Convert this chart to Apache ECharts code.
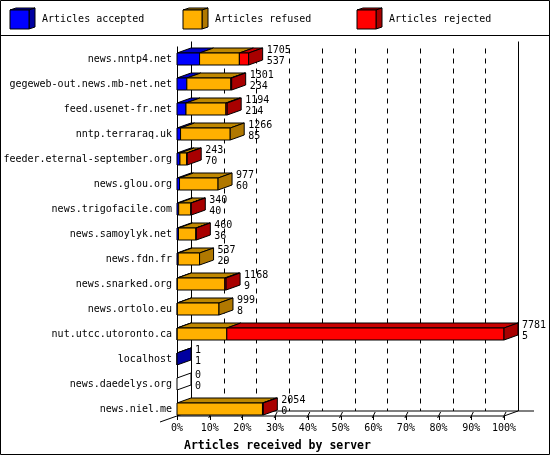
<!DOCTYPE html>
<html>
<head>
<meta charset="utf-8">
<script src="https://cdn.jsdelivr.net/npm/echarts@6/dist/echarts.min.js"></script>
<style>
html,body{margin:0;padding:0;background:#fff;}
#chart{width:550px;height:455px;}
</style>
</head>
<body>
<div id="chart"></div>
<script>
const servers = ['news.nntp4.net','gegeweb-out.news.mb-net.net','feed.usenet-fr.net','nntp.terraraq.uk','feeder.eternal-september.org','news.glou.org','news.trigofacile.com','news.samoylyk.net','news.fdn.fr','news.snarked.org','news.ortolo.eu','nut.utcc.utoronto.ca','localhost','news.daedelys.org','news.niel.me'];
const offered  = [1705,1301,1194,1266,243,977,340,460,537,1168,999,7781,1,0,2054];
const accepted = [537,234,214,85,70,60,40,36,29,9,8,5,1,0,0];
const refused  = [947,1047,950,1181,163,917,290,414,508,1129,991,1180,0,0,2034];
const rejected = [221,20,30,0,10,0,10,10,0,30,0,6596,0,0,20];
const pctTicks = [0,10,20,30,40,50,60,70,80,90,100];
const seriesNames = ['Articles accepted','Articles refused','Articles rejected'];

const FRONT = ['#0000ff','#ffb000','#ff0000'];
const TOP   = ['#0000c8','#c08800','#c80000'];
const SIDE  = ['#0000a0','#b07800','#a80000'];
const DX = 14, DY = -5;
const MONO = '"DejaVu Sans Mono", monospace';

const maxTotal = Math.max.apply(null, offered);
const pct = v => v * 100 / maxTotal;

function renderFrame(params, api) {
  const cs = params.coordSys;
  const x0 = cs.x, top = cs.y, floorF = cs.y + cs.height - 5.5;
  const floorB = floorF + DY;
  const x100 = api.coord([100, 0])[0];
  const L = (x1, y1, x2, y2, dash) => ({
    type: 'line', shape: {x1, y1, x2, y2},
    style: {stroke: '#000', lineWidth: 1, lineDash: dash || null}
  });
  const ch = [];
  ch.push(L(Math.round(x0) + 0.5, top, Math.round(x0) + 0.5, floorF));
  ch.push(L(Math.round(x0 + DX) + 0.5, top + DY, Math.round(x0 + DX) + 0.5, floorB));
  ch.push(L(Math.round(x100 + DX) + 0.5, top + DY, Math.round(x100 + DX) + 0.5, floorB));
  pctTicks.forEach(v => {
    const xf = api.coord([v, 0])[0];
    if (v > 0 && v < 100) {
      const xb = Math.round(xf + DX) + 0.5;
      ch.push(L(xb, top + 2, xb, floorB, [5, 5]));
    }
    ch.push(L(Math.round(xf) + 0.5, floorF, Math.round(xf) + 0.5, floorF + 4));
    if (v > 0) ch.push(L(xf - 1, floorF + 2, xf + 2, floorB + 1));
  });
  ch.push(L(x0 + DX, floorB, x100 + DX + 16, floorB));
  ch.push(L(x0, floorF, x100, floorF));
  ch.push(L(x100, floorF, x100 + DX, floorB));
  ch.push(L(x0 + DX, floorB, x0 + DX - 31, floorB + 11));
  return {type: 'group', children: ch};
}

function renderBar(params, api) {
  const i = params.dataIndex;
  const base = api.coord([0, i]);
  const cy = base[1];
  const yT = cy - 6, yB = cy + 6;
  const parts = [accepted[i], refused[i], rejected[i]];
  const ch = [];
  let cum = 0, xEnd = base[0], last = -1;
  parts.forEach((v, k) => {
    if (v <= 0) return;
    const xa = api.coord([pct(cum), i])[0];
    cum += v;
    const xb = api.coord([pct(cum), i])[0];
    ch.push({type: 'polygon', shape: {points: [[xa, yT], [xb, yT], [xb + DX, yT + DY], [xa + DX, yT + DY]]},
      style: {fill: TOP[k], stroke: '#000', lineWidth: 1}});
    ch.push({type: 'rect', shape: {x: xa, y: yT, width: xb - xa, height: yB - yT},
      style: {fill: FRONT[k], stroke: '#000', lineWidth: 1}});
    xEnd = xb; last = k;
  });
  ch.push({type: 'polygon', shape: {points: [[xEnd, yT], [xEnd + DX, yT + DY], [xEnd + DX, yB + DY], [xEnd, yB]]},
    style: {fill: last >= 0 ? SIDE[last] : '#fff', stroke: '#000', lineWidth: 1}});
  const tx = xEnd + DX + 4;
  ch.push({type: 'text', style: {text: String(offered[i]), x: tx, y: cy - 9, textVerticalAlign: 'middle', verticalAlign: 'middle',
    font: '10px ' + MONO, fill: '#000'}});
  ch.push({type: 'text', style: {text: String(accepted[i]), x: tx, y: cy + 2, textVerticalAlign: 'middle', verticalAlign: 'middle',
    font: '10px ' + MONO, fill: '#000'}});
  return {type: 'group', children: ch};
}

const legendX = [10, 183, 357];
const legendGraphics = [];
seriesNames.forEach((name, k) => {
  const x = legendX[k], y = 10, s = 19;
  legendGraphics.push({type: 'polygon', shape: {points: [[x, y], [x + s, y], [x + s + 6, y - 2], [x + 6, y - 2]]},
    style: {fill: TOP[k], stroke: '#000', lineWidth: 1}});
  legendGraphics.push({type: 'polygon', shape: {points: [[x + s, y], [x + s + 6, y - 2], [x + s + 6, y + s - 2], [x + s, y + s]]},
    style: {fill: SIDE[k], stroke: '#000', lineWidth: 1}});
  legendGraphics.push({type: 'rect', shape: {x: x, y: y, width: s, height: s},
    style: {fill: FRONT[k], stroke: '#000', lineWidth: 1}});
  legendGraphics.push({type: 'text', left: x + 32, top: 14,
    style: {text: name, font: '10px ' + MONO, fill: '#000'}});
});

const chart = echarts.init(document.getElementById('chart'), null, {renderer: 'canvas'});
chart.setOption({
  animation: false,
  backgroundColor: '#fff',
  title: {
    text: 'Articles received by server', left: 179, top: 435,
    textStyle: {fontFamily: MONO, fontWeight: 'bold', fontSize: 11.5, color: '#000'}
  },
  grid: {left: 177, width: 327, top: 46.5, height: 375},
  xAxis: {
    type: 'value', min: 0, max: 100, interval: 10,
    axisLine: {show: false}, axisTick: {show: false}, splitLine: {show: false},
    axisLabel: {formatter: '{value}%', margin: 2, fontFamily: MONO, fontSize: 10, color: '#000'}
  },
  yAxis: {
    type: 'category', data: servers, inverse: true,
    axisLine: {show: false}, axisTick: {show: false},
    axisLabel: {margin: 5, fontFamily: MONO, fontSize: 10, color: '#000'}
  },
  graphic: [
    {type: 'rect', shape: {x: 0.5, y: 0.5, width: 549, height: 454}, style: {fill: null, stroke: '#000', lineWidth: 1}, z: 100},
    {type: 'line', shape: {x1: 0, y1: 35.5, x2: 550, y2: 35.5}, style: {stroke: '#000', lineWidth: 1}},
    {type: 'group', children: legendGraphics}
  ],
  series: [
    {
      type: 'custom', name: 'frame', renderItem: renderFrame,
      data: [[0, 0]], encode: {x: 0, y: 1}, z: 1, silent: true
    },
    {
      type: 'custom', name: 'bars', renderItem: renderBar,
      data: servers.map((s, i) => [pct(offered[i]), i]), encode: {x: 0, y: 1}, z: 2, silent: true
    }
  ]
});
</script>
</body>
</html>
